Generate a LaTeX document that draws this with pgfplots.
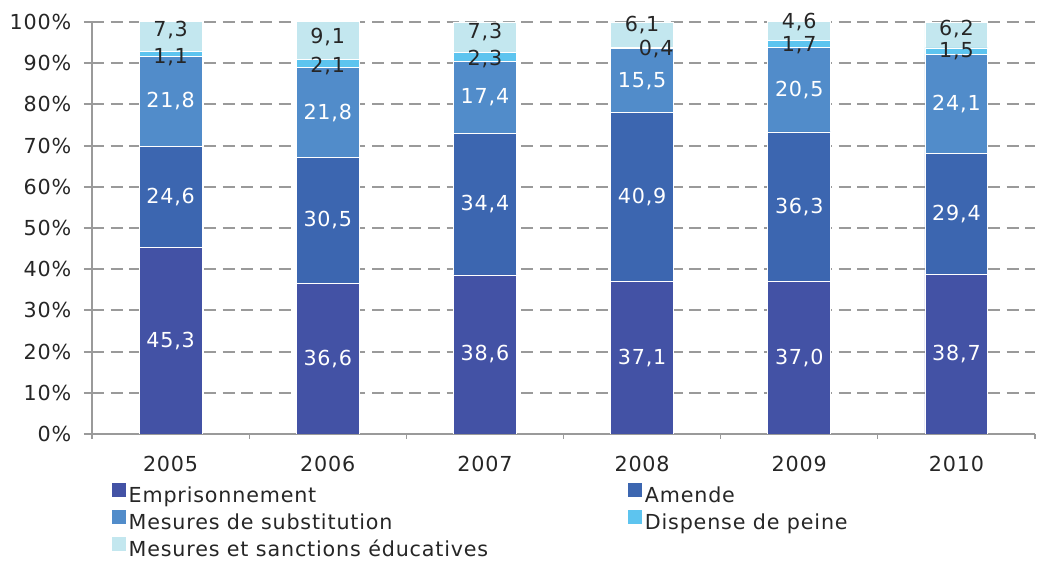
\documentclass[border=0pt]{standalone}
\usepackage{pgfplots}
\pgfplotsset{compat=1.18}
\usepackage{fontspec}
\setmainfont{DejaVu Sans}[LetterSpace=4]
\definecolor{cEmp}{HTML}{4352A5}
\definecolor{cAme}{HTML}{3C66B0}
\definecolor{cSub}{HTML}{518CCA}
\definecolor{cDis}{HTML}{5DC4EF}
\definecolor{cEdu}{HTML}{C3E7EF}
\definecolor{cTxt}{HTML}{262626}
\definecolor{cAx}{HTML}{9A9A9A}
\newcommand{\chartfont}{\fontsize{15.5}{18}\selectfont}
% label positions (x, y in %, text)
\pgfplotstableread{
x y lab
0 22.65 45,3
1 18.30 36,6
2 19.30 38,6
3 18.55 37,1
4 18.50 37,0
5 19.35 38,7
}\labEmp
\pgfplotstableread{
x y lab
0 57.60 24,6
1 51.85 30,5
2 55.80 34,4
3 57.55 40,9
4 55.15 36,3
5 53.40 29,4
}\labAme
\pgfplotstableread{
x y lab
0 80.80 21,8
1 78.00 21,8
2 81.70 17,4
3 85.75 15,5
4 83.55 20,5
5 80.15 24,1
}\labSub
\pgfplotstableread{
x y lab
0 91.5 1,1
1 89.3 2,1
2 91.0 2,3
3.09 93.4 0,4
4 94.4 1,7
5 92.8 1,5
}\labDis
\pgfplotstableread{
x y lab
0 98.1 7,3
1 96.4 9,1
2 97.6 7,3
3 99.3 6,1
4 99.9 4,6
5 98.4 6,2
}\labEdu
\begin{document}
\begin{tikzpicture}
\begin{axis}[
  name=main,
  width=707.25pt, height=309pt, scale only axis,
  ybar stacked, bar width=0.4,
  xmin=-0.5, xmax=5.5, ymin=0, ymax=100,
  xtick={0,1,2,3,4,5}, xticklabels={2005,2006,2007,2008,2009,2010},
  minor xtick={-0.5,0.5,1.5,2.5,3.5,4.5,5.5},
  major x tick style={draw=none},
  minor x tick style={draw=cAx, line width=0.8pt},
  ytick={0,10,...,100},
  yticklabel={\pgfmathprintnumber{\tick}\%},
  /pgf/number format/assume math mode=true,
  axis x line*=bottom, axis y line*=left,
  x axis line style={-, draw=cAx, line width=0.8pt},
  y axis line style={-, draw=cAx, line width=1.5pt},
  tick align=outside,
  ytick style={draw=cAx, line width=1.5pt},
  major tick length=6pt, minor tick length=3.5pt,
  ymajorgrids,
  grid style={draw=cAx, line width=1.5pt, dash pattern=on 9pt off 5pt},
  tick label style={font=\chartfont, text=cTxt},
  xticklabel style={yshift=-7pt},
  yticklabel style={xshift=-6pt},
  legend columns=2,
  legend cell align=left,
  legend style={draw=none, fill=none, at={(0.0167,-0.112)}, anchor=north west,
     font=\chartfont, text=cTxt,
     row sep=2pt,
     /tikz/every even column/.append style={column sep=103pt}},
  legend image code/.code={\fill[#1, draw=none] (0pt,-1pt) rectangle (10.5pt,9.5pt);},
]
\addplot[fill=cEmp, draw=white, line width=0.6pt] coordinates {(0,45.3) (1,36.6) (2,38.6) (3,37.1) (4,37.0) (5,38.7)};
\addplot[fill=cAme, draw=white, line width=0.6pt] coordinates {(0,24.6) (1,30.5) (2,34.4) (3,40.9) (4,36.3) (5,29.4)};
\addplot[fill=cSub, draw=white, line width=0.6pt] coordinates {(0,21.8) (1,21.8) (2,17.4) (3,15.5) (4,20.5) (5,24.1)};
\addplot[fill=cDis, draw=white, line width=0.6pt] coordinates {(0,1.1) (1,2.1) (2,2.3) (3,0.4) (4,1.7) (5,1.5)};
\addplot[fill=cEdu, draw=white, line width=0.6pt] coordinates {(0,7.3) (1,9.1) (2,7.3) (3,6.1) (4,4.6) (5,6.2)};
\legend{Emprisonnement, Amende, Mesures de substitution, Dispense de peine, Mesures et sanctions éducatives}
\end{axis}
\begin{axis}[
  width=707.25pt, height=309pt, scale only axis,
  xmin=-0.5, xmax=5.5, ymin=0, ymax=100,
  hide axis, clip=false,
  nodes near coords, point meta=explicit symbolic,
  every node near coord/.append style={anchor=center, font=\chartfont, inner sep=0pt},
]
\addplot[draw=none, mark=none, every node near coord/.append style={text=white}] table[meta=lab] {\labEmp};
\addplot[draw=none, mark=none, every node near coord/.append style={text=white}] table[meta=lab] {\labAme};
\addplot[draw=none, mark=none, every node near coord/.append style={text=white}] table[meta=lab] {\labSub};
\addplot[draw=none, mark=none, every node near coord/.append style={text=cTxt}] table[meta=lab] {\labDis};
\addplot[draw=none, mark=none, every node near coord/.append style={text=cTxt}] table[meta=lab] {\labEdu};
\end{axis}
\path ([shift={(-69pt,16.5pt)}]main.north west) rectangle ([shift={(1.5pt,-96.75pt)}]main.south east);
\end{tikzpicture}
\end{document}
